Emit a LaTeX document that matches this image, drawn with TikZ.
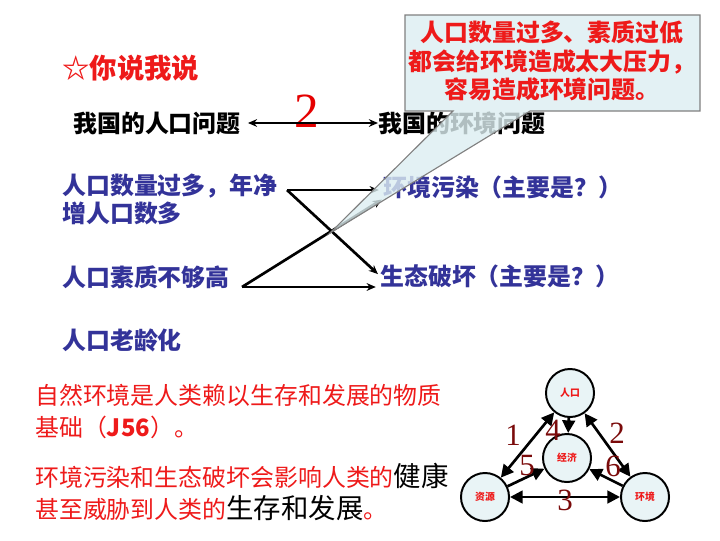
\documentclass[tikz,border=0pt]{standalone}
\usepackage{fontspec}
\newfontfamily\cjk{Noto Sans CJK SC}
\newfontfamily\tnr{Liberation Serif}
\usetikzlibrary{arrows.meta}
\definecolor{tred}{HTML}{EE1A1A}
\definecolor{tblue}{HTML}{333399}
\definecolor{tboxfill}{HTML}{DCEEF1}
\definecolor{tcirc}{HTML}{E9F4F6}
\definecolor{tnum}{HTML}{7A0A0A}
\newcommand{\blk}[1]{{\color{black}\fontsize{19.5pt}{22pt}\selectfont #1}}

\begin{document}
\begin{tikzpicture}[x=0.025cm, y=-0.025cm,
        txt/.style={anchor=west, inner sep=0pt, font=\cjk\bfseries\fontsize{17pt}{19.5pt}\selectfont},
        bluetxt/.style={txt, text=tblue},
        redtxt/.style={anchor=west, inner sep=0pt, align=left, text=tred, font=\cjk\fontsize{17pt}{22.5pt}\selectfont},
        conn/.style={line width=1.9pt, >={Stealth[length=6.5pt,width=5.5pt]}},
        ring/.style={circle, draw, line width=1.4pt, fill=tcirc, minimum size=1.2cm, inner sep=0pt, text=tred, font=\cjk\bfseries\fontsize{7pt}{8pt}\selectfont},
        link/.style={line width=1.9pt, >={Triangle[length=9pt,width=9pt]}},
        num/.style={text=tnum, font=\tnr\fontsize{22pt}{22pt}\selectfont}]
        \useasboundingbox (0,0) rectangle (720,540);

        \node[txt, text=tred, font=\cjk\bfseries\fontsize{19.5pt}{22pt}\selectfont] (title) at (62,68) {☆你说我说};

        \node[txt] (rkwt) at (73,123) {我国的人口问题};
        \node[txt] (hjwt) at (378,123) {我国的环境问题};
        \node[font=\tnr\fontsize{35pt}{35pt}\selectfont, text=red!90!black] (two) at (307,111) {2};
        \draw[conn, <->, shorten <=5pt] (rkwt.east) -- (hjwt.west);

        \node[bluetxt, align=left] (rksl) at (62,199.5) {人口数量过多，年净\\增人口数多};
        \node[bluetxt] (rksz) at (62,277) {人口素质不够高};
        \node[bluetxt] (rklh) at (62,340) {人口老龄化};
        \node[bluetxt] (hjwr) at (383,187) {环境污染（主要是？）};
        \node[bluetxt] (stph) at (380,276) {生态破坏（主要是？）};

        % the cross
        \coordinate (p) at (287,190);
        \coordinate (q) at (242,287);
        \coordinate (x) at (330,233);
        \draw[conn, ->, shorten >=3pt] (p) -- (hjwr.west |- p);
        \draw[conn, ->, shorten >=2pt] (p) -- (stph.west);
        \draw[conn, ->, shorten >=3pt] (q) -- (stph.west |- q);
        \draw[conn, ->, shorten >=1pt] (q) -- (hjwr.south west);

        % callout
        \path[draw=gray, fill=tboxfill, fill opacity=0.8, line width=0.8pt]
            (405,15) -- (700,15) -- (700,111) -- (530,111) -- (x) -- (453,111) -- (405,111) -- cycle;
        \node[align=center, text=tred, font=\cjk\bfseries\fontsize{17pt}{20.5pt}\selectfont] (tip) at (552,61)
            {人口数量过多、素质过低\\都会给环境造成太大压力，\\容易造成环境问题。};

        \node[redtxt] (jc) at (35,411.5) {自然环境是人类赖以生存和发展的物质\\基础（\textbf{J56}）。};
        \node[redtxt] (yx) at (35,492) {环境污染和生态破坏会影响人类的\blk{健康}\\甚至威胁到人类的\blk{生存和发展}。};

        % the four circles
        \node[ring] (renkou) at (570,393) {人口};
        \node[ring] (jingji) at (567,458) {经济};
        \node[ring] (ziyuan) at (485,497) {资源};
        \node[ring] (huanjing) at (645,497) {环境};

        \draw[link, <->] (renkou) -- (ziyuan);
        \draw[link, <->] (renkou) -- (huanjing);
        \draw[link, <->] (ziyuan) -- (huanjing);
        \draw[link, ->] (renkou) -- (jingji);
        \draw[link, ->] (ziyuan) -- (jingji);
        \draw[link, ->] (huanjing) -- (jingji);

        \node[num] (n1) at (513,435) {1};
        \node[num] (n2) at (617,433) {2};
        \node[num] (n3) at (565,500) {3};
        \node[num] (n4) at (553,430) {4};
        \node[num] (n5) at (527,466) {5};
        \node[num] (n6) at (613,466) {6};
    \end{tikzpicture}
\end{document}
